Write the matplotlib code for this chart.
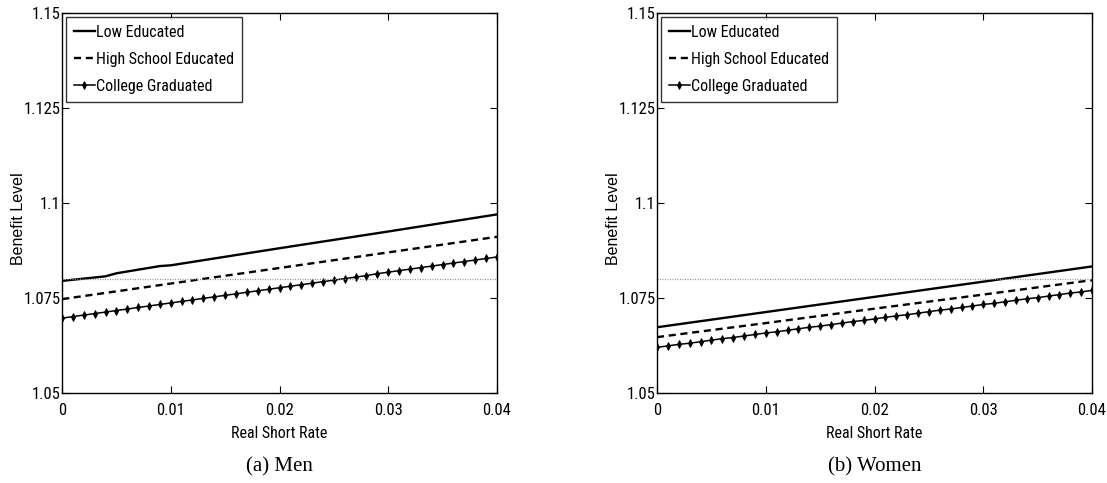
import matplotlib
matplotlib.use("Agg")
import matplotlib.pyplot as plt
from matplotlib import font_manager

# pick the narrowest available sans family
names = {f.name for f in font_manager.fontManager.ttflist}
pref = ['Liberation Sans Narrow', 'Roboto Condensed', 'Open Sans Condensed',
        'Noto Sans Condensed', 'Liberation Sans']
family = next((p for p in pref if p in names), 'DejaVu Sans')
plt.rcParams['font.family'] = [family, 'DejaVu Sans']

# ---------------- data ----------------
rate = [0.000, 0.001, 0.002, 0.003, 0.004, 0.005, 0.006, 0.007, 0.008, 0.009,
        0.010, 0.011, 0.012, 0.013, 0.014, 0.015, 0.016, 0.017, 0.018, 0.019,
        0.020, 0.021, 0.022, 0.023, 0.024, 0.025, 0.026, 0.027, 0.028, 0.029,
        0.030, 0.031, 0.032, 0.033, 0.034, 0.035, 0.036, 0.037, 0.038, 0.039,
        0.040]

men_low_rate = [0.000, 0.004, 0.005, 0.009, 0.010, 0.020, 0.030, 0.040]
men_low = [1.0795, 1.0807, 1.0815, 1.0834, 1.0836, 1.0881, 1.0925, 1.0970]
men_hs_rate = [0.000, 0.010, 0.020, 0.030, 0.040]
men_hs = [1.0747, 1.0788, 1.0829, 1.0870, 1.0911]
men_college = [1.0697, 1.0701, 1.0705, 1.0709, 1.0713, 1.0717, 1.0721, 1.0725, 1.0729, 1.0733,
               1.0737, 1.0741, 1.0745, 1.0749, 1.0753, 1.0757, 1.0761, 1.0765, 1.0769, 1.0773,
               1.0777, 1.0781, 1.0785, 1.0789, 1.0793, 1.0797, 1.0801, 1.0805, 1.0809, 1.0814,
               1.0818, 1.0822, 1.0826, 1.0830, 1.0834, 1.0838, 1.0842, 1.0846, 1.0850, 1.0854,
               1.0858]

women_low_rate = [0.000, 0.010, 0.020, 0.030, 0.040]
women_low = [1.0673, 1.0713, 1.0753, 1.0793, 1.0833]
women_hs_rate = [0.000, 0.010, 0.020, 0.030, 0.040]
women_hs = [1.0647, 1.0684, 1.0722, 1.0759, 1.0797]
women_college = [1.0620, 1.0624, 1.0628, 1.0631, 1.0635, 1.0639, 1.0643, 1.0646, 1.0650, 1.0654,
                 1.0658, 1.0661, 1.0665, 1.0669, 1.0673, 1.0676, 1.0680, 1.0684, 1.0688, 1.0691,
                 1.0695, 1.0699, 1.0703, 1.0706, 1.0710, 1.0714, 1.0718, 1.0721, 1.0725, 1.0729,
                 1.0733, 1.0736, 1.0740, 1.0744, 1.0748, 1.0751, 1.0755, 1.0759, 1.0763, 1.0766,
                 1.0770]

reference_level = 1.08
series_labels = ['Low Educated', 'High School Educated', 'College Graduated']
xticks = [0, 0.01, 0.02, 0.03, 0.04]
xticklabels = ['0', '0.01', '0.02', '0.03', '0.04']
yticks = [1.05, 1.075, 1.1, 1.125, 1.15]
yticklabels = ['1.05', '1.075', '1.1', '1.125', '1.15']
captions = ['(a) Men', '(b) Women']
xlabel = 'Real Short Rate'
ylabel = 'Benefit Level'

panels = [
    (men_low_rate, men_low, men_hs_rate, men_hs, men_college),
    (women_low_rate, women_low, women_hs_rate, women_hs, women_college),
]

narrow = family != 'Liberation Sans'
tick_fs = 12 if narrow else 10
legend_fs = 11.5 if narrow else 10
xlabel_fs = 11.5 if narrow else 10

# ---------------- figure ----------------
W, H = 1107, 483
fig = plt.figure(figsize=(W / 100, H / 100), dpi=100)

ax_lefts = [62, 657]
ax_w = 435
ax_top, ax_bot = 13, 393

for i, (lr, lv, hr, hv, cv) in enumerate(panels):
    ax = fig.add_axes([ax_lefts[i] / W, 1 - ax_bot / H, ax_w / W, (ax_bot - ax_top) / H])
    ax.plot(lr, lv, color='black', lw=1.7, ls='-', label=series_labels[0])
    ax.plot(hr, hv, color='black', lw=1.7, ls=(0, (3.0, 2.0)), label=series_labels[1])
    ax.plot(rate, cv, color='black', lw=1.1, ls='-', marker='d', markersize=3.8,
            markeredgewidth=0.6, label=series_labels[2])
    ax.plot([rate[0], rate[-1]], [reference_level, reference_level], color='#8c8c8c',
            lw=0.9, ls=(0, (0.8, 1.2)))
    ax.set_xlim(0, 0.04)
    ax.set_ylim(1.05, 1.15)
    ax.set_xticks(xticks)
    ax.set_xticklabels(xticklabels)
    ax.set_yticks(yticks)
    ax.set_yticklabels(yticklabels)
    ax.tick_params(direction='in', top=True, right=True, length=5, width=0.8,
                   labelsize=tick_fs)
    ax.tick_params(axis='x', pad=7)
    ax.tick_params(axis='y', pad=1)
    for sp in ax.spines.values():
        sp.set_linewidth(1.0)
    ax.set_xlabel(xlabel, fontsize=xlabel_fs)
    ax.xaxis.set_label_coords(0.5, -(433 - ax_bot) / (ax_bot - ax_top))
    ax.xaxis.label.set_va('center')
    ax.set_ylabel(ylabel, fontsize=11.5, family=['Liberation Sans', 'DejaVu Sans'])
    ax.yaxis.set_label_coords(-44 / ax_w, (ax_bot - 219) / (ax_bot - ax_top))
    ax.yaxis.label.set_va('center')
    leg = ax.legend(loc='upper left', fontsize=legend_fs, frameon=True, fancybox=False,
                    edgecolor='black', handlelength=1.3, handletextpad=0.1,
                    borderpad=0.5, labelspacing=0.75, borderaxespad=0.25)
    leg.get_frame().set_linewidth(1.0)
    cx = (ax_lefts[i] + ax_w / 2) / W
    fig.text(cx, 1 - 467 / H, captions[i], ha='center', va='center', fontsize=15,
             family=['Liberation Serif', 'DejaVu Serif'])

fig.savefig('out.png', dpi=100)
